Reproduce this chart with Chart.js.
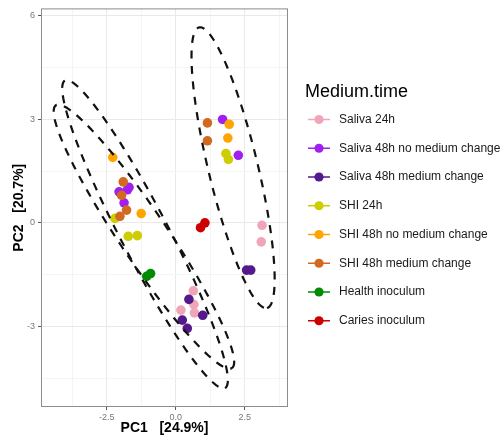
<!DOCTYPE html>
<html>
<head>
<meta charset="utf-8">
<script src="https://cdn.jsdelivr.net/npm/chart.js@4.4.0/dist/chart.umd.min.js"></script>
<style>
  html, body { margin: 0; padding: 0; background: #ffffff; }
</style>
</head>
<body>
<canvas id="pcaChart" width="502" height="440"></canvas>
<script>
// Groups (legend order) and their colours
const groupNames = [
  'Saliva 24h',
  'Saliva 48h no medium change',
  'Saliva 48h medium change',
  'SHI 24h',
  'SHI 48h no medium change',
  'SHI 48h medium change',
  'Health inoculum',
  'Caries inoculum'
];
const groupColors = ['#f0a6b8', '#a020f0', '#54198c', '#cdcd00', '#ffa500', '#d2691e', '#008b00', '#cd0000'];

// PC1 / PC2 scores, one list per group
const saliva24 = [[3.13, -0.07], [3.10, -0.55], [0.64, -1.97], [0.66, -2.37], [0.19, -2.53], [0.68, -2.61]];
const saliva48NoChange = [[1.70, 3.00], [2.27, 1.96], [-1.69, 1.03], [-1.75, 0.96], [-2.05, 0.90], [-1.87, 0.58]];
const saliva48Change = [[2.57, -1.37], [2.72, -1.37], [0.48, -2.22], [0.98, -2.68], [0.24, -2.82], [0.42, -3.06]];
const shi24 = [[1.82, 2.01], [1.91, 1.84], [-2.20, 0.13], [-1.72, -0.39], [-1.39, -0.37]];
const shi48NoChange = [[-2.28, 1.90], [-1.25, 0.27], [1.94, 2.86], [1.89, 2.46]];
const shi48Change = [[1.15, 2.90], [1.15, 2.38], [-1.90, 1.19], [-1.96, 0.80], [-1.78, 0.37], [-2.02, 0.19]];
const healthInoculum = [[-1.05, -1.55], [-0.91, -1.47]];
const cariesInoculum = [[0.90, -0.14], [1.06, 0.00]];

const groupPoints = [saliva24, saliva48NoChange, saliva48Change, shi24, shi48NoChange, shi48Change, healthInoculum, cariesInoculum];

// Confidence ellipses: centre x, centre y, semi-axis A (x, y), semi-axis B (x, y), in PC units
const ellipses = [
  [-1.11, -0.33, 2.90, -4.46, 0.77, 0.32],
  [-1.15, -0.40, 3.19, -3.81, 0.72, 0.39],
  [2.08, 1.60, 1.23, -4.07, 0.87, 0.17]
];

// Axis ticks
const xGridValues = [-3.75, -2.5, -1.25, 0, 1.25, 2.5, 3.75];
const xMajorTicks = [-2.5, 0, 2.5];
const yGridValues = [-4.5, -3, -1.5, 0, 1.5, 3, 4.5, 6];
const yMajorTicks = [-3, 0, 3, 6];

const fontFamily = '"Liberation Sans", Arial, Helvetica, sans-serif';

const ellipsePlugin = {
  id: 'ellipses',
  afterDatasetsDraw(chart) {
    const { ctx, scales: { x, y } } = chart;
    ctx.save();
    ctx.strokeStyle = '#111111';
    ctx.lineWidth = 2.2;
    ctx.setLineDash([8, 7.5]);
    ellipses.forEach(([cx, cy, ax, ay, bx, by]) => {
      ctx.beginPath();
      const steps = 180;
      for (let i = 0; i <= steps; i++) {
        const t = (i / steps) * Math.PI * 2;
        const px = x.getPixelForValue(cx + ax * Math.cos(t) + bx * Math.sin(t));
        const py = y.getPixelForValue(cy + ay * Math.cos(t) + by * Math.sin(t));
        if (i === 0) ctx.moveTo(px, py); else ctx.lineTo(px, py);
      }
      ctx.stroke();
    });
    ctx.restore();
  }
};

const panelPlugin = {
  id: 'panelBorder',
  afterDraw(chart) {
    const { ctx, chartArea: a } = chart;
    ctx.save();
    ctx.strokeStyle = '#8c8c8c';
    ctx.lineWidth = 1;
    ctx.strokeRect(a.left + 0.5, a.top + 0.5, a.right - a.left - 1, a.bottom - a.top - 1);
    ctx.restore();
  }
};

const legendPlugin = {
  id: 'sideLegend',
  afterDraw(chart) {
    const ctx = chart.ctx;
    ctx.save();
    ctx.fillStyle = '#000000';
    ctx.font = '18px ' + fontFamily;
    ctx.textBaseline = 'alphabetic';
    ctx.fillText('Medium.time', 305, 97);
    chart.data.datasets.forEach((ds, i) => {
      const yc = 119.5 + i * 28.75;
      ctx.strokeStyle = ds.backgroundColor;
      ctx.lineWidth = 1.5;
      ctx.beginPath();
      ctx.moveTo(308, yc);
      ctx.lineTo(330, yc);
      ctx.stroke();
      ctx.fillStyle = ds.backgroundColor;
      ctx.beginPath();
      ctx.arc(319, yc, 4.6, 0, Math.PI * 2);
      ctx.fill();
      ctx.fillStyle = '#1a1a1a';
      ctx.font = '12px ' + fontFamily;
      ctx.textBaseline = 'middle';
      ctx.fillText(ds.label, 339, yc);
    });
    ctx.restore();
  }
};

const gridColor = (majors) => (c) => majors.includes(c.tick.value) ? '#e9e9e9' : '#f4f4f4';
const tickColor = (majors) => (c) => majors.includes(c.tick.value) ? '#555555' : 'rgba(0,0,0,0)';

new Chart(document.getElementById('pcaChart'), {
  type: 'scatter',
  data: {
    datasets: groupNames.map((name, i) => ({
      label: name,
      data: groupPoints[i].map(([px, py]) => ({ x: px, y: py })),
      backgroundColor: groupColors[i],
      borderColor: groupColors[i],
      pointRadius: 4.8,
      pointBorderWidth: 0,
      order: -i
    }))
  },
  options: {
    responsive: false,
    animation: false,
    layout: { padding: { left: 0, right: 214, top: 8, bottom: 0 } },
    plugins: {
      legend: { display: false },
      tooltip: { enabled: false }
    },
    scales: {
      x: {
        type: 'linear',
        min: -4.88,
        max: 4.07,
        afterBuildTicks: (s) => { s.ticks = xGridValues.map(v => ({ value: v })); },
        afterFit: (s) => { s.height = 33; },
        border: { display: false },
        grid: { color: gridColor(xMajorTicks), lineWidth: 1, tickLength: 3, tickColor: tickColor(xMajorTicks) },
        ticks: {
          autoSkip: false,
          maxRotation: 0,
          padding: 2,
          color: '#777777',
          font: { family: fontFamily, size: 9 },
          callback: (v) => xMajorTicks.includes(v) ? v.toFixed(1) : ''
        },
        title: {
          display: true,
          text: 'PC1   [24.9%]',
          color: '#000000',
          font: { family: fontFamily, size: 14, weight: 'bold' },
          padding: { top: 0, bottom: 3 }
        }
      },
      y: {
        type: 'linear',
        min: -5.34,
        max: 6.22,
        afterBuildTicks: (s) => { s.ticks = yGridValues.map(v => ({ value: v })); },
        afterFit: (s) => { s.width = 41; },
        border: { display: false },
        grid: { color: gridColor(yMajorTicks), lineWidth: 1, tickLength: 3, tickColor: tickColor(yMajorTicks) },
        ticks: {
          autoSkip: false,
          padding: 3,
          color: '#777777',
          font: { family: fontFamily, size: 9 },
          callback: (v) => yMajorTicks.includes(v) ? String(v) : ''
        },
        title: {
          display: true,
          text: 'PC2   [20.7%]',
          color: '#000000',
          font: { family: fontFamily, size: 14, weight: 'bold' },
          padding: { top: 10.5, bottom: 0 }
        }
      }
    }
  },
  plugins: [ellipsePlugin, panelPlugin, legendPlugin]
});
</script>
</body>
</html>
